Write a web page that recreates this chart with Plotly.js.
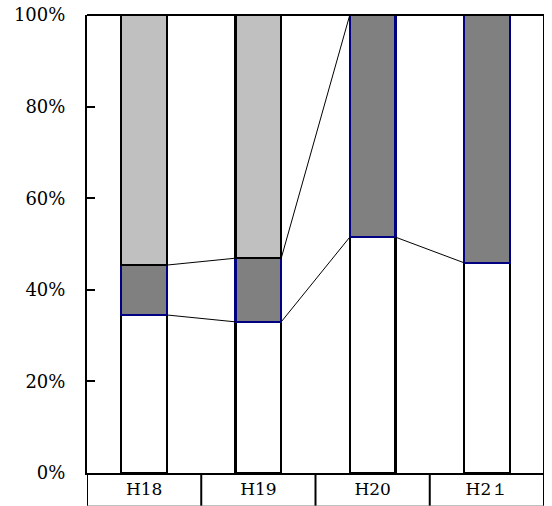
<!DOCTYPE html>
<html>
<head>
<meta charset="utf-8">
<script src="https://cdn.plot.ly/plotly-3.0.1.min.js"></script>
<style>html,body{margin:0;padding:0;background:#fff;}#chart{width:552px;height:506px;}</style>
</head>
<body>
<div id="chart"></div>
<script>
// Data (percent shares, 100% stacked)
var categories = ["H18", "H19", "H20", "H2１"];
var seriesA = [34.5, 33.0, 51.5, 45.9];   // white, bottom
var seriesB = [10.9, 13.9, 48.5, 54.1];   // dark gray, middle
var seriesC = [54.6, 53.1, 0, 0];         // light gray, top
var yTicks = [0, 20, 40, 60, 80, 100];

var xs = categories.map(function(_, i){ return i; });
var barWidth = 0.4;
var fontFam = 'DejaVu Serif, serif';

function barTrace(vals, fill, edge){
  return {type:'bar', x:xs, y:vals, width:barWidth,
    marker:{color:fill, line:{color:edge, width:2.2}},
    hoverinfo:'skip', showlegend:false};
}
var traces = [
  barTrace(seriesA, '#ffffff', '#000000'),
  barTrace(seriesB, '#808080', '#000080'),
  barTrace(seriesC, '#c0c0c0', '#000000')
];

var cumA = seriesA.slice();
var cumB = seriesA.map(function(v,i){ return v + seriesB[i]; });
[cumA, cumB].forEach(function(cum){
  var lx = [], ly = [];
  for (var i = 0; i < xs.length - 1; i++){
    lx.push(xs[i] + barWidth/2, xs[i+1] - barWidth/2, null);
    ly.push(cum[i], cum[i+1], null);
  }
  traces.push({type:'scatter', mode:'lines', x:lx, y:ly,
    line:{color:'#000000', width:1}, hoverinfo:'skip', showlegend:false, cliponaxis:false});
});

var shapes = [];
for (var i = 0; i < xs.length - 1; i++){
  shapes.push({type:'line', xref:'x', yref:'paper', x0:xs[i]+0.5, x1:xs[i]+0.5, y0:0, y1:-0.072,
    line:{color:'#000', width:2}});
}
shapes.push({type:'line', xref:'x', yref:'paper', x0:xs[xs.length-1]+0.5, x1:xs[xs.length-1]+0.5, y0:-0.072, y1:1,
  line:{color:'#000', width:2}});
shapes.push({type:'line', xref:'x', yref:'paper', x0:-0.5, x1:-0.5, y0:-0.072, y1:0,
  line:{color:'#000', width:2}});
shapes.push({type:'line', xref:'x', yref:'paper', x0:-0.5, x1:xs[xs.length-1]+0.5, y0:-0.072, y1:-0.072,
  line:{color:'#888', width:1}});
shapes.push({type:'line', xref:'x', yref:'paper', x0:-0.5, x1:xs[xs.length-1]+0.5, y0:1, y1:1,
  line:{color:'#000', width:2}});

var layout = {
  width:552, height:506,
  margin:{l:87, r:8, t:15, b:33, pad:0},
  paper_bgcolor:'#fff', plot_bgcolor:'#fff',
  barmode:'stack', showlegend:false,
  font:{family:fontFam, size:18, color:'#000'},
  xaxis:{range:[-0.5, xs.length-0.5], tickmode:'array', tickvals:xs, ticktext:categories,
    showgrid:false, zeroline:false, ticks:'', showline:true, linecolor:'#000', linewidth:2,
    tickfont:{family:fontFam, size:17, color:'#000'}, ticklabelstandoff:0, fixedrange:true},
  yaxis:{range:[0,100], tickmode:'array', tickvals:yTicks, ticktext:yTicks.map(function(v){return v+'%';}),
    showgrid:false, zeroline:false, ticks:'inside', ticklen:8, tickwidth:2, tickcolor:'#000',
    showline:true, linecolor:'#000', linewidth:2, ticklabelstandoff:16,
    tickfont:{family:fontFam, size:18, color:'#000'}, fixedrange:true},
  shapes:shapes
};
Plotly.newPlot('chart', traces, layout, {displayModeBar:false, staticPlot:true});
</script>
</body>
</html>
